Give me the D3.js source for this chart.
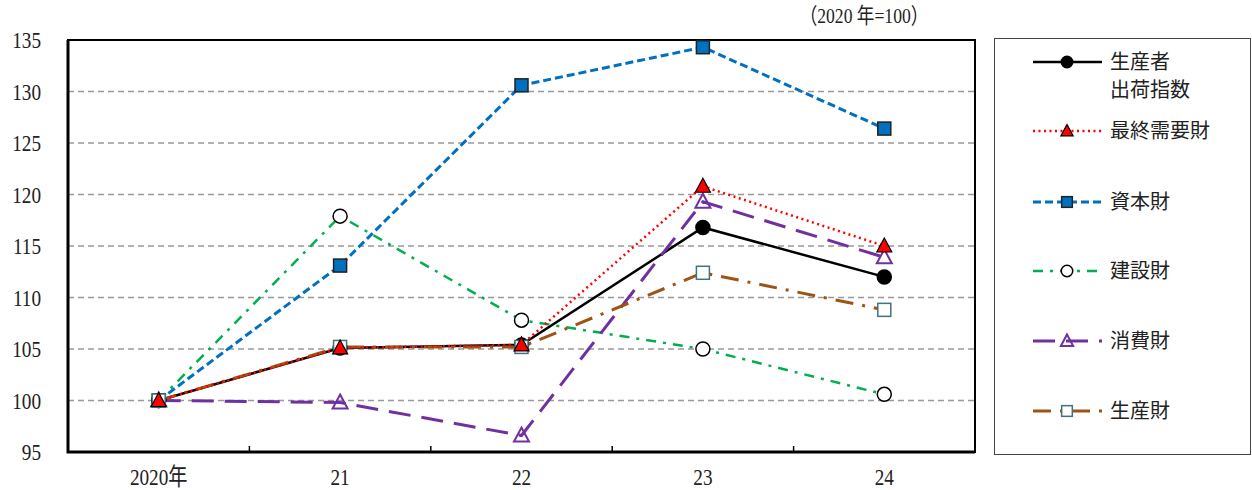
<!DOCTYPE html>
<html>
<head>
<meta charset="utf-8">
<script src="https://cdn.jsdelivr.net/npm/d3@7"></script>
<style>
  body { margin: 0; background: #fff; }
  .ax text { font-family: "Liberation Serif", "Noto Sans CJK JP", serif; font-size: 24px; fill: #222; }
  .leg text { font-family: "Noto Sans CJK JP", sans-serif; font-size: 20px; fill: #222; }
</style>
</head>
<body>
<script>
var width = 1252,
    height = 490;

// data (2020 = 100)
var years = ['2020年', '21', '22', '23', '24'];
var yTicks = [95, 100, 105, 110, 115, 120, 125, 130, 135];
var producerShipments = [100, 105.1, 105.4, 116.8, 112.0];
var finalDemand = [100, 105.1, 105.4, 120.8, 115.0];
var capitalGoods = [100, 113.1, 130.6, 134.3, 126.4];
var constructionGoods = [100, 117.9, 107.8, 105.0, 100.6];
var consumerGoods = [100, 99.8, 96.6, 119.3, 113.9];
var producerGoods = [100, 105.2, 105.2, 112.4, 108.8];

var series = [
  { name: ['生産者', '出荷指数'], values: producerShipments, color: '#000', dash: null, w: 2.5, mark: 'circle', fill: '#000', stroke: '#000' },
  { name: ['資本財'], values: capitalGoods, color: '#0070c0', dash: '8,4', w: 3, mark: 'square', fill: '#0070c0', stroke: '#222' },
  { name: ['建設財'], values: constructionGoods, color: '#00b050', dash: '10,7,3,7', w: 2.5, mark: 'circle', fill: '#fff', stroke: '#000' },
  { name: ['消費財'], values: consumerGoods, color: '#7030a0', dash: '22,11', w: 3, mark: 'triangle', fill: 'none', stroke: '#7030a0' },
  { name: ['生産財'], values: producerGoods, color: '#9c5514', dash: '18,9,3,9', w: 3, mark: 'square', fill: '#fff', stroke: '#41727f' },
  { name: ['最終需要財'], values: finalDemand, color: '#ff0000', dash: '2,3.5', w: 2.5, mark: 'triangle', fill: '#ff0000', stroke: '#000' }
];
// legend order
var legendOrder = [0, 5, 1, 2, 3, 4];

var svg = d3.select('body').append('svg')
    .attr('width', width)
    .attr('height', height);

var x = d3.scaleBand().domain(years).range([68, 975]),
    y = d3.scaleLinear().domain([95, 135]).range([452, 40]);

function cx(i) { return x(years[i]) + x.bandwidth() / 2; }

// grid
svg.append('g').selectAll('line')
  .data(yTicks.filter(function(d) { return d > 95 && d < 135; }))
  .enter().append('line')
  .attr('x1', 68).attr('x2', 975)
  .attr('y1', function(d) { return y(d); })
  .attr('y2', function(d) { return y(d); })
  .attr('stroke', '#999')
  .attr('stroke-width', 1.5)
  .attr('stroke-dasharray', '6,4');

// narrow serif text like the original
function narrow(sel, xx, yy) {
  return sel.attr('transform', 'translate(' + xx + ',' + yy + ') scale(0.8,1)');
}

// y labels
var axG = svg.append('g').attr('class', 'ax');
axG.selectAll('.yl')
  .data(yTicks)
  .enter().append('text')
  .each(function(d) { narrow(d3.select(this), 41, y(d)); })
  .attr('dy', '0.35em')
  .attr('text-anchor', 'end')
  .text(function(d) { return d; });

// x labels
axG.selectAll('.xl')
  .data(years)
  .enter().append('text')
  .each(function(d) { narrow(d3.select(this), x(d) + x.bandwidth() / 2, 485); })
  .attr('text-anchor', 'middle')
  .text(function(d) { return d; });

// unit note
narrow(axG.append('text'), 864, 23)
  .attr('text-anchor', 'middle')
  .style('font-size', '22px')
  .text('（2020 年=100）');

// frame
svg.append('rect')
  .attr('x', 68).attr('y', 40)
  .attr('width', 907).attr('height', 412)
  .attr('fill', 'none').attr('stroke', '#000').attr('stroke-width', 2);
svg.append('path')
  .attr('d', 'M68,40V452H975')
  .attr('fill', 'none').attr('stroke', '#000').attr('stroke-width', 3);

// x ticks between categories
svg.append('g').selectAll('line')
  .data(years.slice(1))
  .enter().append('line')
  .attr('x1', function(d) { return x(d); })
  .attr('x2', function(d) { return x(d); })
  .attr('y1', 452).attr('y2', 446)
  .attr('stroke', '#000').attr('stroke-width', 1.5);

var line = d3.line()
  .x(function(d, i) { return cx(i); })
  .y(function(d) { return y(d); });

// lines
svg.append('g').selectAll('path')
  .data(series)
  .enter().append('path')
  .attr('d', function(d) { return line(d.values); })
  .attr('fill', 'none')
  .attr('stroke', function(d) { return d.color; })
  .attr('stroke-width', function(d) { return d.w; })
  .attr('stroke-dasharray', function(d) { return d.dash; });

function drawMark(g, s, k) {
  k = k || 1;
  if (s.mark === 'circle') {
    g.append('circle').attr('r', 7 * k)
      .attr('fill', s.fill).attr('stroke', s.stroke).attr('stroke-width', 1.5);
  } else if (s.mark === 'square') {
    g.append('rect').attr('x', -6.5 * k).attr('y', -6.5 * k).attr('width', 13 * k).attr('height', 13 * k)
      .attr('fill', s.fill).attr('stroke', s.stroke).attr('stroke-width', 1.5);
  } else {
    g.append('path').attr('d', 'M0,' + (-8 * k) + 'L' + (7.5 * k) + ',' + (6 * k) + 'L' + (-7.5 * k) + ',' + (6 * k) + 'Z')
      .attr('fill', s.fill).attr('stroke', s.stroke).attr('stroke-width', s.fill === 'none' ? 2 : 1.2);
  }
}

// markers
series.forEach(function(s) {
  s.values.forEach(function(v, i) {
    var g = svg.append('g').attr('transform', 'translate(' + cx(i) + ',' + y(v) + ')');
    drawMark(g, s);
  });
});

// legend
var leg = svg.append('g').attr('class', 'leg');
leg.append('rect')
  .attr('x', 994.5).attr('y', 38.5)
  .attr('width', 256).attr('height', 416)
  .attr('fill', '#fff').attr('stroke', '#444').attr('stroke-width', 1);

var legY = [62, 131, 202, 271, 341, 411];
legendOrder.forEach(function(k, j) {
  var s = series[k], yy = legY[j];
  leg.append('line')
    .attr('x1', 1033).attr('x2', 1102)
    .attr('y1', yy).attr('y2', yy)
    .attr('stroke', s.color)
    .attr('stroke-width', s.w)
    .attr('stroke-dasharray', s.dash);
  drawMark(leg.append('g').attr('transform', 'translate(1067,' + yy + ')'), s, 0.82);
  s.name.forEach(function(t, n) {
    leg.append('text')
      .attr('x', 1110).attr('y', yy + n * 28)
      .attr('dy', '0.35em')
      .text(t);
  });
});
</script>
</body>
</html>
